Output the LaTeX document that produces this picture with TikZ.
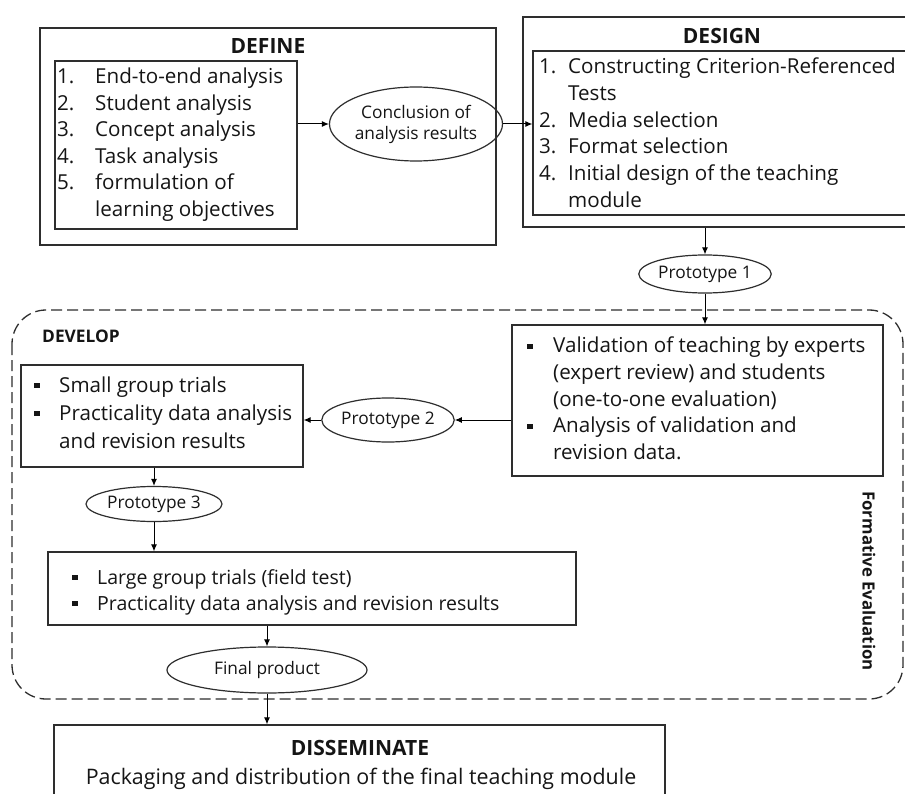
\documentclass[tikz,border=0pt]{standalone}
\usepackage{fontspec}
\setmainfont{Open Sans}
\usetikzlibrary{arrows.meta,shapes.geometric}
\definecolor{ln}{HTML}{2E2E2E}
\definecolor{tx}{HTML}{151515}
\tikzset{
  box/.style={draw=ln,line width=1.3pt,rectangle,inner sep=0pt},
  oval/.style={draw=ln,line width=1.2pt,ellipse,inner sep=0pt,font=\fontsize{17.3}{21}\selectfont,text=tx,align=center},
  ltxt/.style={anchor=base west,inner sep=0pt,text=tx,font=\fontsize{20.6}{25}\selectfont},
  ttl/.style={anchor=base,inner sep=0pt,text=tx,font=\fontsize{21}{25}\selectfont\bfseries},
  bul/.style={fill=tx,rectangle,minimum size=5.5pt,inner sep=0pt},
  arr/.style={draw=black,line width=1pt,-{Latex[length=7pt,width=6pt]}}
}
\begin{document}
\begin{tikzpicture}[x=1pt,y=-1pt]
\useasboundingbox (0,0) rectangle (905,794);
\clip (0,0) rectangle (905,794);
\fill[white] (0,0) rectangle (905,794);
% ---------- DEFINE
\node[box,minimum width=456pt,minimum height=217pt] (defouter) at (268,136.5) {};
\node[ttl] (deft) at (268,54) {DEFINE};
\node[box,minimum width=242pt,minimum height=168pt] (definner) at (176,145) {};
\node[ltxt] (d1n) at (57,84) {1.};
\node[ltxt] (d1) at (95,84) {End-to-end analysis};
\node[ltxt] (d2n) at (57,110.5) {2.};
\node[ltxt] (d2) at (95,110.5) {Student analysis};
\node[ltxt] (d3n) at (57,137) {3.};
\node[ltxt] (d3) at (95,137) {Concept analysis};
\node[ltxt] (d4n) at (57,163.5) {4.};
\node[ltxt] (d4) at (95,163.5) {Task analysis};
\node[ltxt] (d5n) at (57,190) {5.};
\node[ltxt] (d5) at (95,190) {formulation of};
\node[ltxt] (d6) at (95,216.5) {learning objectives};
\node[oval,minimum width=166pt,minimum height=74pt] (concl) at (416,124) {Conclusion of\\analysis results};
% ---------- DESIGN
\node[box,minimum width=392pt,minimum height=210pt] (desouter) at (719,122) {};
\node[ttl] (dest) at (722,44) {DESIGN};
\node[box,minimum width=382pt,minimum height=164pt] (desinner) at (724,133) {};
\node[ltxt] (s1n) at (539,73.5) {1.};
\node[ltxt] (s1) at (568,73.5) {Constructing Criterion-Referenced};
\node[ltxt] (s1b) at (568,100.3) {Tests};
\node[ltxt] (s2n) at (539,127.1) {2.};
\node[ltxt] (s2) at (568,127.1) {Media selection};
\node[ltxt] (s3n) at (539,153.9) {3.};
\node[ltxt] (s3) at (568,153.9) {Format selection};
\node[ltxt] (s4n) at (539,180.7) {4.};
\node[ltxt] (s4) at (568,180.7) {Initial design of the teaching};
\node[ltxt] (s4b) at (568,207.5) {module};
\node[oval,minimum width=116pt,minimum height=38pt] (p1) at (705,274) {Prototype 1};
% ---------- DEVELOP region
\draw[ln,line width=1.3pt,dash pattern=on 11pt off 5pt,rounded corners=34pt] (12,310) rectangle (903,699);
\node[anchor=base west,inner sep=0pt,text=tx,font=\fontsize{17.3}{20}\selectfont\bfseries] (devt) at (42,342) {DEVELOP};
\node[anchor=center,inner sep=0pt,text=tx,rotate=-90,font=\fontsize{16.8}{20}\selectfont\bfseries] (form) at (869,581) {Formative Evaluation};
% validation box
\node[box,minimum width=371pt,minimum height=151pt] (valid) at (697.5,400.5) {};
\node[bul] (vb1) at (530,346.5) {};
\node[ltxt] (v1) at (553,352.7) {Validation of teaching by experts};
\node[ltxt] (v2) at (553,379.3) {(expert review) and students};
\node[ltxt] (v3) at (553,406) {(one-to-one evaluation)};
\node[bul] (vb2) at (530,426.5) {};
\node[ltxt] (v4) at (553,432.7) {Analysis of validation and};
\node[ltxt] (v5) at (553,459) {revision data.};
\node[oval,minimum width=117pt,minimum height=44pt] (p2) at (388,420) {Prototype 2};
% small group box
\node[box,minimum width=282pt,minimum height=102pt] (small) at (162,416) {};
\node[bul] (gb1) at (37,385.5) {};
\node[ltxt] (g1) at (59,392) {Small group trials};
\node[bul] (gb2) at (37,413.5) {};
\node[ltxt] (g2) at (59,420) {Practicality data analysis};
\node[ltxt] (g3) at (59,448.3) {and revision results};
\node[oval,minimum width=136pt,minimum height=35pt] (p3) at (154,504) {Prototype 3};
% large group box
\node[box,minimum width=528pt,minimum height=73pt] (large) at (312,588.5) {};
\node[bul] (lb1) at (75,577.5) {};
\node[ltxt,font=\fontsize{19.5}{24}\selectfont] (l1) at (97,584) {Large group trials (field test)};
\node[bul] (lb2) at (75,603.5) {};
\node[ltxt,font=\fontsize{19.5}{24}\selectfont] (l2) at (97,610) {Practicality data analysis and revision results};
\node[oval,minimum width=200pt,minimum height=46pt] (fin) at (267,670) {Final product};
% ---------- DISSEMINATE
\node[box,minimum width=611pt,minimum height=84pt] (diss) at (359.5,767) {};
\node[ttl] (dist) at (360,755.5) {DISSEMINATE};
\node[ltxt,anchor=base,font=\fontsize{21.4}{25}\selectfont] (dis1) at (361,784) {Packaging and distribution of the final teaching module};
% ---------- connectors
\draw[arr] (concl.west -| definner.east) -- (concl.west);
\draw[arr] (concl.east) -- (concl.east -| desinner.west);
\draw[arr] (p1.north |- desouter.south) -- (p1.north);
\draw[arr] (p1.south) -- (p1.south |- valid.north);
\draw[arr] (p2.east -| valid.west) -- (p2.east);
\draw[arr] (p2.west) -- (p2.west -| small.east);
\draw[arr] (p3.north |- small.south) -- (p3.north);
\draw[arr] (p3.south) -- (p3.south |- large.north);
\draw[arr] (fin.north |- large.south) -- (fin.north);
\draw[arr] (fin.south) -- (fin.south |- diss.north);
\end{tikzpicture}
\end{document}
